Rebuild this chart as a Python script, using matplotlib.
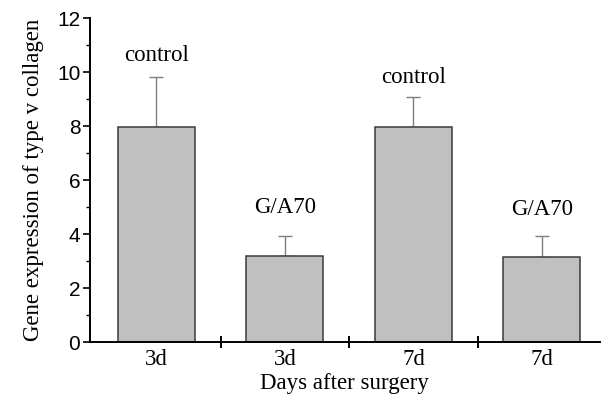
import matplotlib
matplotlib.use("Agg")
import matplotlib.pyplot as plt
from matplotlib.ticker import MultipleLocator, FixedLocator

# values
days = ["3d", "3d", "7d", "7d"]
groups = ["control", "G/A70", "control", "G/A70"]
means = [7.97, 3.17, 7.98, 3.15]
err_up = [1.84, 0.75, 1.08, 0.78]
label_y = [10.6, 5.0, 9.8, 4.9]

serif = ["Liberation Serif", "DejaVu Serif"]
sans = ["Liberation Sans", "DejaVu Sans"]

fig = plt.figure(figsize=(6.04, 3.98), dpi=100)
ax = fig.add_axes([0.149, 0.1407, 0.844, 0.814])

pos = list(range(1, len(means) + 1))
ax.bar(pos, means, width=0.6, color="#c0c0c0", edgecolor="#3a3a3a", linewidth=1.1, zorder=2)
ax.errorbar(pos, means, yerr=[[0] * len(means), err_up], fmt="none",
            ecolor="#7f7f7f", elinewidth=1.0, capsize=5, capthick=1.0, zorder=1)

for p, g, y in zip(pos, groups, label_y):
    ax.text(p, y, g, ha="center", va="center", fontsize=16.5, family=serif)

ax.set_xlim(0.483, 4.45)
ax.set_ylim(0, 12)

ax.spines["top"].set_visible(False)
ax.spines["right"].set_visible(False)
ax.spines["left"].set_linewidth(1.4)
ax.spines["bottom"].set_linewidth(1.4)

# boundary ticks between bars, labels at bar centres
ax.xaxis.set_major_locator(FixedLocator([1.5, 2.5, 3.5]))
ax.xaxis.set_minor_locator(FixedLocator(pos))
ax.set_xticklabels([])
ax.set_xticklabels(days, minor=True, fontsize=16.5, family=serif)
ax.tick_params(axis="x", which="major", direction="inout", length=8, width=1.4)
ax.tick_params(axis="x", which="minor", length=0, pad=5)

ax.yaxis.set_major_locator(MultipleLocator(2))
ax.yaxis.set_minor_locator(MultipleLocator(1))
ax.tick_params(axis="y", which="major", direction="out", length=5, width=1.2, labelsize=15, pad=2)
ax.tick_params(axis="y", which="minor", direction="out", length=3, width=1.0)
for t in ax.get_yticklabels():
    t.set_family(sans)

ax.set_xlabel("Days after surgery", fontsize=16.5, family=serif, labelpad=2)
ax.set_ylabel("Gene expression of type v collagen", fontsize=16.5, family=serif, labelpad=9)

fig.savefig("out.png", dpi=100)
